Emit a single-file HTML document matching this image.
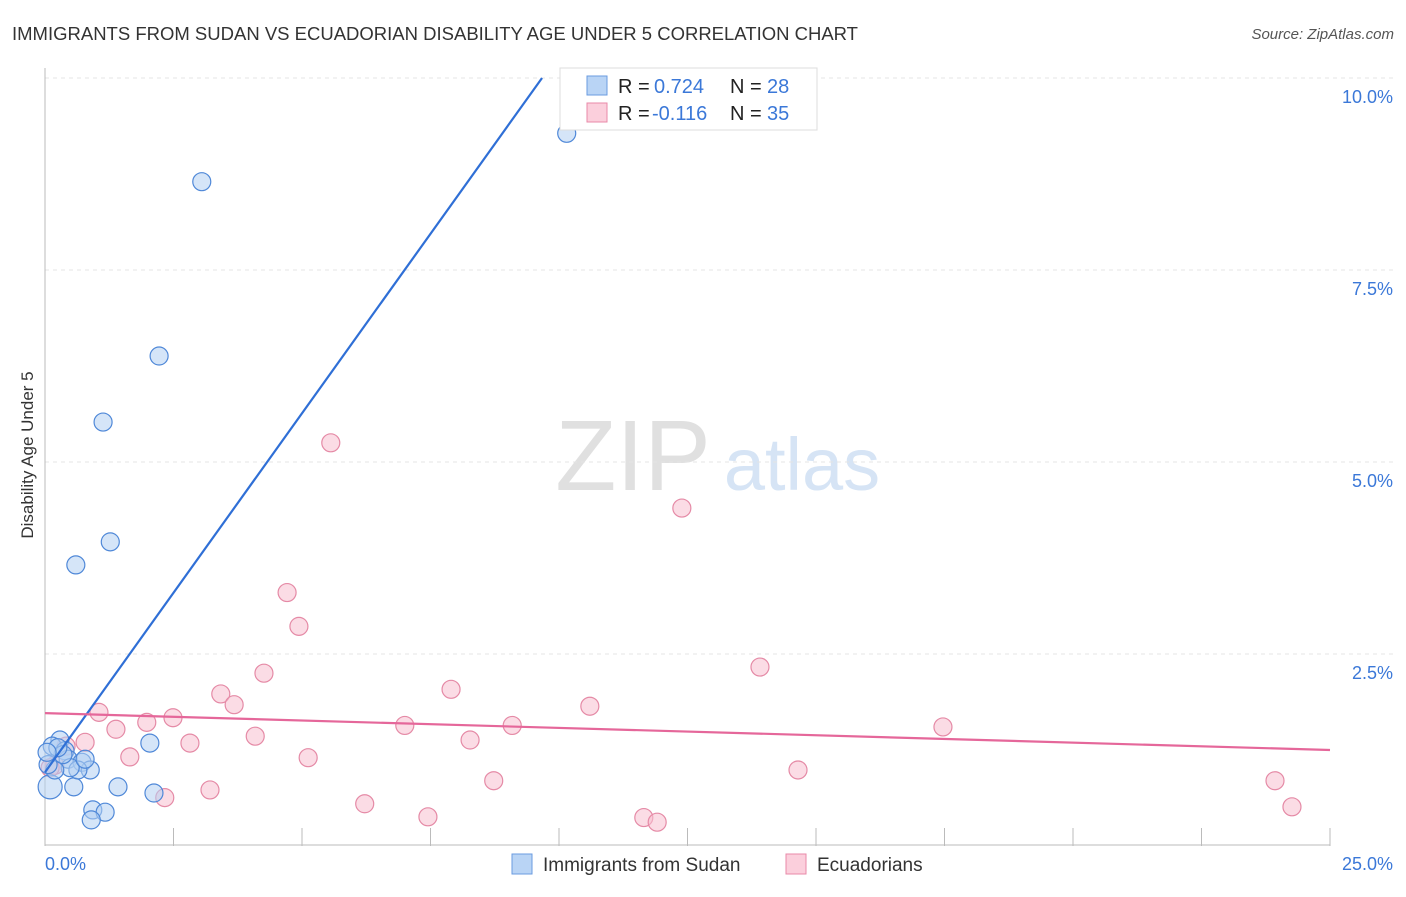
<!DOCTYPE html>
<html><head><meta charset="utf-8"><style>
body{margin:0;background:#fff;font-family:"Liberation Sans",sans-serif;}
svg text{font-family:"Liberation Sans",sans-serif;}
</style></head><body>
<svg id="chart" width="1406" height="892">
<text x="12" y="40" font-size="18.5" fill="#333">IMMIGRANTS FROM SUDAN VS ECUADORIAN DISABILITY AGE UNDER 5 CORRELATION CHART</text>
<text x="1394" y="39" font-size="15" fill="#555" font-style="italic" text-anchor="end">Source: ZipAtlas.com</text>
<text x="33" y="455" font-size="17" fill="#333" text-anchor="middle" transform="rotate(-90 33 455)">Disability Age Under 5</text>
<g><text x="633" y="490" font-size="100" fill="#e0e0e0" font-family="Liberation Serif" text-anchor="middle">ZIP</text><text x="802" y="490" font-size="74" fill="#d6e4f5" text-anchor="middle">atlas</text></g>
<g id="grid"></g><g id="axes"></g><g id="marks"></g>
<g>
<rect x="560" y="68" width="257" height="62" fill="#fff" stroke="#ddd"/>
<rect x="587" y="76" width="20" height="19" fill="#b9d4f5" stroke="#6a9be0"/>
<text x="618" y="93" font-size="20" fill="#222">R =</text><text x="654" y="93" font-size="20" fill="#3b78d8">0.724</text>
<text x="730" y="93" font-size="20" fill="#222">N =</text><text x="767" y="93" font-size="20" fill="#3b78d8">28</text>
<rect x="587" y="103" width="20" height="19" fill="#fbcfdc" stroke="#e88aa8"/>
<text x="618" y="120" font-size="20" fill="#222">R =</text><text x="652" y="120" font-size="20" fill="#3b78d8">-0.116</text>
<text x="730" y="120" font-size="20" fill="#222">N =</text><text x="767" y="120" font-size="20" fill="#3b78d8">35</text>
</g>
<g>
<rect x="512" y="854" width="20" height="20" fill="#b9d4f5" stroke="#6a9be0"/>
<text x="543" y="871" font-size="19" fill="#333">Immigrants from Sudan</text>
<rect x="786" y="854" width="20" height="20" fill="#fbcfdc" stroke="#e88aa8"/>
<text x="817" y="871" font-size="19" fill="#333">Ecuadorians</text>
</g>
</svg>
<script>
const yTicks=[2.5,5.0,7.5,10.0];
const yTickLabels=["2.5%","5.0%","7.5%","10.0%"];
const xTickCount=10;
const sudanX=[10.15,3.05,2.22,1.13,1.27,0.6,2.04,1.42,2.12,0.56,0.93,1.17,0.9,0.1,0.29,0.14,0.39,0.45,0.72,0.88,0.64,0.49,0.19,0.35,0.06,0.78,0.25,0.04];
const sudanY=[9.28,8.65,6.38,5.52,3.96,3.66,1.34,0.77,0.69,0.77,0.47,0.44,0.34,0.77,1.38,1.3,1.24,1.13,1.09,0.99,0.99,1.02,0.99,1.19,1.06,1.13,1.28,1.22];
const ecuX=[5.56,12.39,4.71,4.94,13.91,4.26,7.9,3.42,3.68,10.6,1.05,2.49,1.98,1.38,7.0,9.09,17.47,4.09,8.27,2.82,0.78,0.41,1.65,5.12,0.19,0.1,14.65,8.73,23.93,3.21,2.33,6.22,24.26,7.45,11.65,11.91];
const ecuY=[5.25,4.4,3.3,2.86,2.33,2.25,2.04,1.98,1.84,1.82,1.74,1.67,1.61,1.52,1.57,1.57,1.55,1.43,1.38,1.34,1.35,1.3,1.16,1.15,1.05,1.02,0.99,0.85,0.85,0.73,0.63,0.55,0.51,0.38,0.37,0.31];
const sudanTrend=[[0,0.96],[9.67,10.0]];
const ecuTrend=[[0,1.73],[25,1.25]];
const X=v=>45+v*51.4, Y=v=>846-v*76.8;
const NS="http://www.w3.org/2000/svg";
function mk(t,a,p){const e=document.createElementNS(NS,t);for(const k in a)e.setAttribute(k,a[k]);p.appendChild(e);return e;}
const grid=document.getElementById('grid'),axes=document.getElementById('axes'),marks=document.getElementById('marks');
yTicks.forEach((t,i)=>{
 const l=mk('line',{x1:45,x2:1394,y1:Y(t),y2:Y(t),stroke:'#e4e4e4','stroke-dasharray':'4,4'},grid);
 
 
 const tx=mk('text',{x:1393,y:Y(t)+25,'font-size':18,fill:'#3b78d8','text-anchor':'end'},axes);
 tx.textContent=yTickLabels[i];
 
 
});
const ax=mk('line',{x1:45,x2:45,y1:68,y2:846,stroke:'#bbb'},axes);


const bx=mk('line',{x1:45,x2:1330,y1:845,y2:845,stroke:'#bbb'},axes);


for(let i=1;i<=xTickCount;i++){const t=mk('line',{x1:X(i*2.5),x2:X(i*2.5),y1:828,y2:846,stroke:'#bbb'},axes);
 
 }
[["0.0%",45,'start'],["25.0%",1393,'end']].forEach(d=>{const t=mk('text',{x:d[1],y:870,'font-size':18,fill:'#3b78d8','text-anchor':d[2]},axes);t.textContent=d[0];
 
 });
function pts(xs,ys,fill,stroke,name){xs.forEach((x,i)=>{const c=mk('circle',{cx:X(x),cy:Y(ys[i]),r:(name==='sudan-point'&&i===13)?12:9,fill,stroke,'stroke-width':1.2,'fill-opacity':0.55},marks);
 
 });}
pts(ecuX,ecuY,'#f8c0d0','#e58aa6','ecuadorian-point');
pts(sudanX,sudanY,'#b3cff2','#4f88d8','sudan-point');
const l1=mk('line',{x1:X(sudanTrend[0][0]),y1:Y(sudanTrend[0][1]),x2:X(sudanTrend[1][0]),y2:Y(sudanTrend[1][1]),stroke:'#2f6fd6','stroke-width':2.2},marks);


const l2=mk('line',{x1:X(ecuTrend[0][0]),y1:Y(ecuTrend[0][1]),x2:X(ecuTrend[1][0]),y2:Y(ecuTrend[1][1]),stroke:'#e5679a','stroke-width':2.2},marks);


</script>
</body></html>
